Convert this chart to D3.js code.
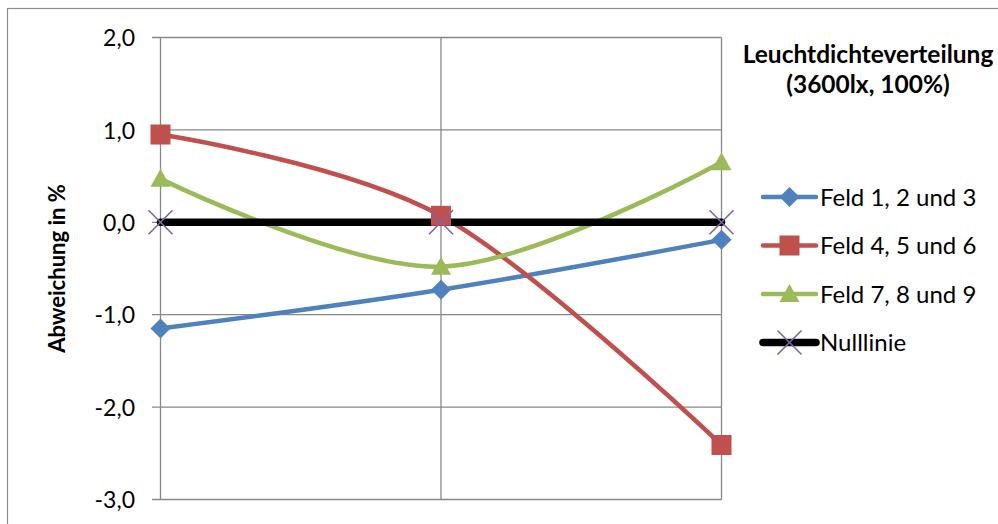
<!DOCTYPE html>
<html><head><meta charset="utf-8">
<script src="https://cdn.jsdelivr.net/npm/d3@7"></script>
<style>html,body{margin:0;padding:0;background:#fff;overflow:hidden}</style>
</head><body>
<svg id="c" width="998" height="524"></svg>
<script>
const categories = [1, 2, 3];
const seriesNames = ["Feld 1, 2 und 3", "Feld 4, 5 und 6", "Feld 7, 8 und 9", "Nulllinie"];
const feld123 = [-1.15, -0.73, -0.19];
const feld456 = [0.95, 0.07, -2.41];
const feld789 = [0.47, -0.48, 0.65];
const nulllinie = [0, 0, 0];
const yTicks = [2, 1, 0, -1, -2, -3];
const titleLines = ["Leuchtdichteverteilung", "(3600lx, 100%)"];
const yTitle = "Abweichung in %";

const FONT = "Lato, 'Open Sans', sans-serif";
const svg = d3.select("#c");

// outer frame
svg.append("rect").attr("x", 7.5).attr("y", 8.5).attr("width", 1100).attr("height", 600)
  .attr("fill", "none").attr("stroke", "#8c8c8c").attr("stroke-width", 1.2);

const x = d3.scalePoint().domain(categories).range([160.5, 721.5]).padding(0);
const y = d3.scaleLinear().domain([-3, 2]).range([499.5, 37.5]);

// horizontal gridlines
svg.append("g").selectAll("line").data(yTicks).join("line")
  .attr("x1", 152).attr("x2", 721.5)
  .attr("y1", d => y(d)).attr("y2", d => y(d))
  .attr("stroke", "#888").attr("stroke-width", 1.3);
// vertical gridlines
svg.append("g").selectAll("line").data(categories).join("line")
  .attr("x1", d => x(d)).attr("x2", d => x(d))
  .attr("y1", y(2)).attr("y2", y(-3))
  .attr("stroke", "#888").attr("stroke-width", 1.3);

// y axis labels
const fmt = d => d3.format(".1f")(d).replace(".", ",").replace("−", "-");
const yAxis = d3.axisLeft(y).tickValues(yTicks).tickSize(0).tickPadding(0).tickFormat(fmt);
const ga = svg.append("g").attr("transform", "translate(135,0)").call(yAxis);
ga.select(".domain").remove();
ga.selectAll("text").attr("font-family", FONT).attr("font-size", 23).attr("fill", "#000")
  .attr("dy", "0.36em");

// y title
svg.append("text").attr("transform", `translate(65,${(y(2) + y(-3)) / 2}) rotate(-90)`)
  .attr("text-anchor", "middle").attr("font-family", FONT).attr("font-weight", "bold")
  .attr("font-size", 22).text(yTitle);

// chart title
svg.append("g").selectAll("text").data(titleLines).join("text")
  .attr("x", 868).attr("y", (d, i) => 63 + i * 30)
  .attr("text-anchor", "middle").attr("font-family", FONT).attr("font-weight", "bold")
  .attr("font-size", 24.5).text(d => d);

const series = [
  { name: seriesNames[0], values: feld123, color: "#4F81BD", marker: "diamond", width: 4.5 },
  { name: seriesNames[1], values: feld456, color: "#C0504D", marker: "square", width: 4.5 },
  { name: seriesNames[2], values: feld789, color: "#9BBB59", marker: "triangle", width: 4.5 },
  { name: seriesNames[3], values: nulllinie, color: "#000000", marker: "x", width: 7.5, markerColor: "#8064A2" }
];

const line = d3.line().x((d, i) => x(categories[i])).y(d => y(d)).curve(d3.curveCardinal.tension(0));

function drawMarker(g, s, cx, cy, scale) {
  scale = scale || 1;
  if (s.marker === "diamond") {
    const r = 10 * scale;
    g.append("path").attr("d", `M${cx},${cy - r}L${cx + r},${cy}L${cx},${cy + r}L${cx - r},${cy}Z`).attr("fill", s.color);
  } else if (s.marker === "square") {
    const r = 10 * scale;
    g.append("rect").attr("x", cx - r).attr("y", cy - r).attr("width", 2 * r).attr("height", 2 * r).attr("fill", s.color);
  } else if (s.marker === "triangle") {
    const r = 10 * scale;
    g.append("path").attr("d", `M${cx},${cy - r}L${cx + r},${cy + 8 * scale}L${cx - r},${cy + 8 * scale}Z`).attr("fill", s.color);
  } else if (s.marker === "x") {
    const r = 12 * scale;
    g.append("path").attr("d", `M${cx - r},${cy - r}L${cx + r},${cy + r}M${cx - r},${cy + r}L${cx + r},${cy - r}`)
      .attr("stroke", s.markerColor).attr("stroke-width", 1.6).attr("fill", "none");
  }
}

const gl = svg.append("g");
series.forEach(s => {
  gl.append("path").attr("d", line(s.values)).attr("fill", "none")
    .attr("stroke", s.color).attr("stroke-width", s.width).attr("stroke-linecap", "round");
});
const gm = svg.append("g");
series.forEach(s => {
  s.values.forEach((v, i) => drawMarker(gm, s, x(categories[i]), y(v)));
});

// legend
const lg = svg.append("g");
series.forEach((s, i) => {
  const ly = 197 + i * 48.5;
  lg.append("line").attr("x1", 763).attr("x2", 816).attr("y1", ly).attr("y2", ly)
    .attr("stroke", s.color).attr("stroke-width", s.width).attr("stroke-linecap", "round");
  drawMarker(lg, s, 789.5, ly);
  lg.append("text").attr("x", 820).attr("y", ly).attr("dy", "0.36em")
    .attr("font-family", FONT).attr("font-size", 24).text(s.name);
});
</script>
</body></html>
